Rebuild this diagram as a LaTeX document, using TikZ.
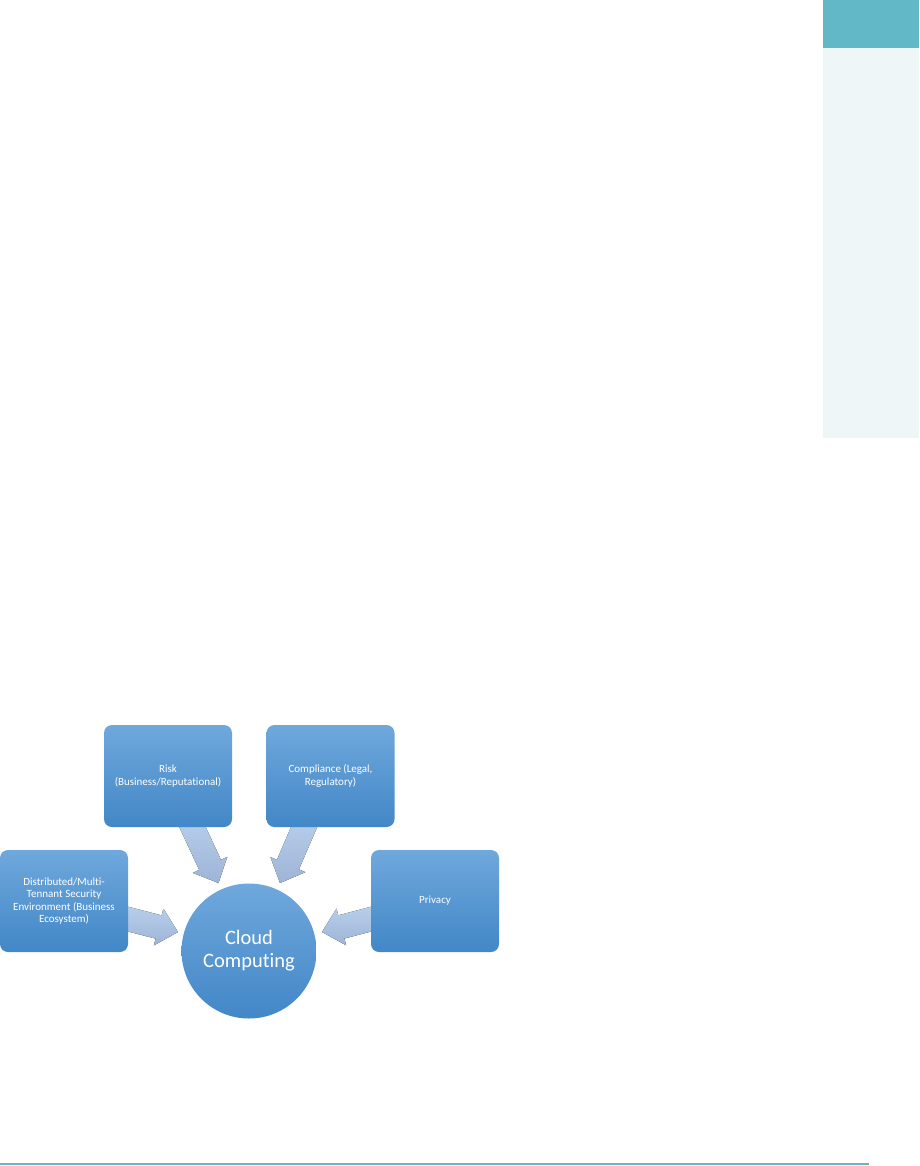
\documentclass[tikz,border=0pt]{standalone}
\usepackage{fontspec}
\setmainfont{Carlito}[Ligatures=NoCommon]
\usetikzlibrary{calc}
\definecolor{panelteal}{HTML}{63B8C8}
\definecolor{panellight}{HTML}{EEF6F8}
\definecolor{boxtop}{HTML}{6FA8DC}
\definecolor{boxbot}{HTML}{4287C7}
\definecolor{arrtop}{HTML}{B9D0EC}
\definecolor{arrbot}{HTML}{9DB4D6}
\tikzset{
  boxnode/.style={rectangle, rounded corners=8pt, minimum width=128pt, minimum height=102pt,
    top color=boxtop, bottom color=boxbot, text=white, align=center, inner sep=2pt,
    font=\fontsize{11}{12.2}\selectfont},
  hubnode/.style={circle, minimum size=135pt, top color=boxtop, bottom color=boxbot,
    text=white, align=center, inner sep=0pt, font=\fontsize{20.5}{23}\selectfont},
  arrowfill/.style={top color=arrtop, bottom color=arrbot, draw=none}
}
\newcommand\fatarrow[2]{%
  \fill[arrowfill] let \p1=(#1), \p2=(#2),
    \n1={atan2(\y2-\y1,\x2-\x1)}, \n2={veclen(\x2-\x1,\y2-\y1)} in
    [shift={(\p1)}, rotate=\n1]
    (0pt,12pt) -- ({\n2*1pt-20pt},12pt) -- ({\n2*1pt-20pt},19pt) -- ({\n2*1pt},0pt)
    -- ({\n2*1pt-20pt},-19pt) -- ({\n2*1pt-20pt},-12pt) -- (0pt,-12pt) -- cycle;}
\begin{document}
\begin{tikzpicture}[x=1pt,y=-1pt]
\useasboundingbox (0,0) rectangle (919,1166);
% side panel and rule
\fill[panelteal] (823,0) rectangle (919,48);
\fill[panellight] (823,48) rectangle (919,438);
\fill[panelteal] (0,1162.5) rectangle (869,1164.5);
% arrow coordinates
\coordinate (rs) at (188.3,818);
\coordinate (rt) at (218.5,883);
\coordinate (cs) at (308,818);
\coordinate (ct) at (280,883);
\coordinate (ls) at (118,916.5);
\coordinate (lt) at (178,932);
\coordinate (ps) at (381,916.5);
\coordinate (pt) at (322,932);
% arrows
\fatarrow{rs}{rt}
\fatarrow{cs}{ct}
\fatarrow{ls}{lt}
\fatarrow{ps}{pt}
% nodes
\node[boxnode] (risk) at (168,776) {Risk\\(Business/Reputational)};
\node[boxnode] (comp) at (330.5,776) {Compliance (Legal,\\Regulatory)};
\node[boxnode] (dist) at (64,901) {Distributed/Multi-\\Tennant Security\\Environment (Business\\Ecosystem)};
\node[boxnode] (priv) at (435,901) {Privacy};
\node[hubnode] (cloud) at (249,951) {Cloud\\Computing};
\end{tikzpicture}
\end{document}
